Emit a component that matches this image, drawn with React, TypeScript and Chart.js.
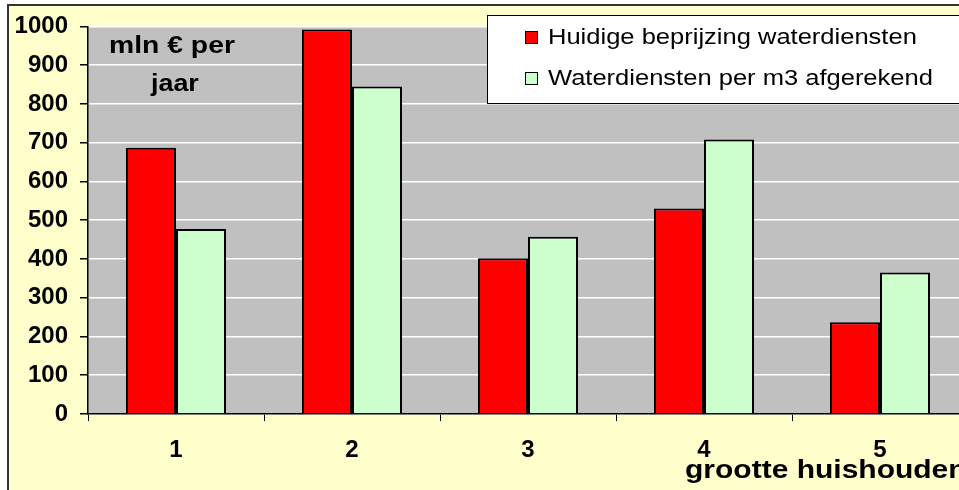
import React, { useEffect, useRef } from "react";
import { Chart, registerables } from "chart.js";

Chart.register(...registerables);

const categories = ["1", "2", "3", "4", "5"];
const seriesNames = ["Huidige beprijzing waterdiensten", "Waterdiensten per m3 afgerekend"];
const huidige = [687, 992, 402, 530, 237];
const perM3 = [477, 845, 457, 708, 365];
const yMin = 0;
const yMax = 1000;
const yStep = 100;
const unitLines = ["mln € per", "jaar"];
const xTitle = "grootte huishouden";

const FONT = '"Liberation Sans", Arial, sans-serif';
const RED = "#FF0000";
const GREEN = "#CCFFCC";
const YELLOW = "#FFFFCC";
const PLOT = "#C0C0C0";

function stretchText(ctx: CanvasRenderingContext2D, text: string, x: number, y: number, sx: number) {
  ctx.save();
  ctx.translate(x, y);
  ctx.scale(sx, 1);
  ctx.fillText(text, 0, 0);
  ctx.restore();
}

const decorPlugin = {
  id: "decor",
  beforeDraw(chart: any) {
    const { ctx, chartArea, width, height } = chart;
    ctx.save();
    ctx.fillStyle = "#FFFFFF";
    ctx.fillRect(0, 0, width, height);
    ctx.fillStyle = YELLOW;
    ctx.fillRect(8, 5, width, height);
    ctx.strokeStyle = "#333333";
    ctx.lineWidth = 2;
    ctx.beginPath();
    ctx.moveTo(8, height + 5);
    ctx.lineTo(8, 5);
    ctx.lineTo(width + 5, 5);
    ctx.stroke();
    ctx.fillStyle = PLOT;
    ctx.fillRect(chartArea.left, chartArea.top, chartArea.right - chartArea.left, chartArea.bottom - chartArea.top);
    ctx.restore();
  },
  afterDraw(chart: any) {
    const { ctx } = chart;
    ctx.save();
    ctx.fillStyle = "#000000";
    ctx.textAlign = "left";
    ctx.textBaseline = "alphabetic";
    ctx.font = `bold 24px ${FONT}`;
    stretchText(ctx, unitLines[0], 109, 53, 1.18);
    stretchText(ctx, unitLines[1], 151, 91, 1.12);
    ctx.font = `bold 25px ${FONT}`;
    stretchText(ctx, xTitle, 685, 478, 1.2);
    ctx.fillStyle = "#FFFFFF";
    ctx.fillRect(487, 15, 600, 88);
    ctx.strokeStyle = "#000000";
    ctx.lineWidth = 1;
    ctx.strokeRect(487.5, 15.5, 600, 88);
    const rows = [44, 85];
    chart.data.datasets.forEach((ds: any, i: number) => {
      const by = rows[i];
      ctx.fillStyle = ds.backgroundColor;
      ctx.fillRect(525, by - 13, 12, 12);
      ctx.strokeStyle = "#000000";
      ctx.lineWidth = 1;
      ctx.strokeRect(525.5, by - 12.5, 12, 12);
      ctx.fillStyle = "#000000";
      ctx.font = `22px ${FONT}`;
      stretchText(ctx, ds.label, 548, by, 1.16);
    });
    ctx.restore();
  },
};

export default function App() {
  const ref = useRef<HTMLCanvasElement | null>(null);
  useEffect(() => {
    if (!ref.current) return;
    const chart = new Chart(ref.current, {
      type: "bar",
      data: {
        labels: categories,
        datasets: [
          {
            label: seriesNames[0],
            data: huidige,
            backgroundColor: RED,
            borderColor: "#000000",
            borderWidth: 2,
            categoryPercentage: 100 / 176,
            barPercentage: 1,
          },
          {
            label: seriesNames[1],
            data: perM3,
            backgroundColor: GREEN,
            borderColor: "#000000",
            borderWidth: 2,
            categoryPercentage: 100 / 176,
            barPercentage: 1,
          },
        ],
      },
      options: {
        animation: false,
        responsive: false,
        devicePixelRatio: 1,
        layout: { padding: { left: 0, top: 26, right: 32, bottom: 0 } },
        plugins: {
          legend: { display: false },
          tooltip: { enabled: false },
          title: { display: false },
        },
        scales: {
          x: {
            afterFit(scale: any) {
              scale.height = 76;
            },
            grid: {
              offset: true,
              drawOnChartArea: false,
              drawTicks: true,
              tickLength: 7,
              tickColor: "#000000",
              color: "#000000",
            },
            border: { color: "#000000", width: 1.5 },
            ticks: {
              color: "#000000",
              font: { family: FONT, size: 24, weight: "bold" },
              padding: 15,
              maxRotation: 0,
            },
          },
          y: {
            min: yMin,
            max: yMax,
            afterFit(scale: any) {
              scale.width = 88;
            },
            grid: {
              color: "#FFFFFF",
              lineWidth: 1.5,
              tickLength: 8,
              tickColor: "#000000",
            },
            border: { color: "#000000", width: 1.5 },
            ticks: {
              stepSize: yStep,
              color: "#000000",
              font: { family: FONT, size: 24, weight: "bold" },
              padding: 12,
              callback: (v: any) => String(v),
            },
          },
        },
      },
      plugins: [decorPlugin],
    } as any);
    return () => chart.destroy();
  }, []);
  return (
    <div style={{ position: "fixed", left: 0, top: 0, width: 959, height: 490, overflow: "hidden", background: "#fff" }}>
      <canvas ref={ref} width={1000} height={490} style={{ display: "block", width: 1000, height: 490 }} />
    </div>
  );
}
